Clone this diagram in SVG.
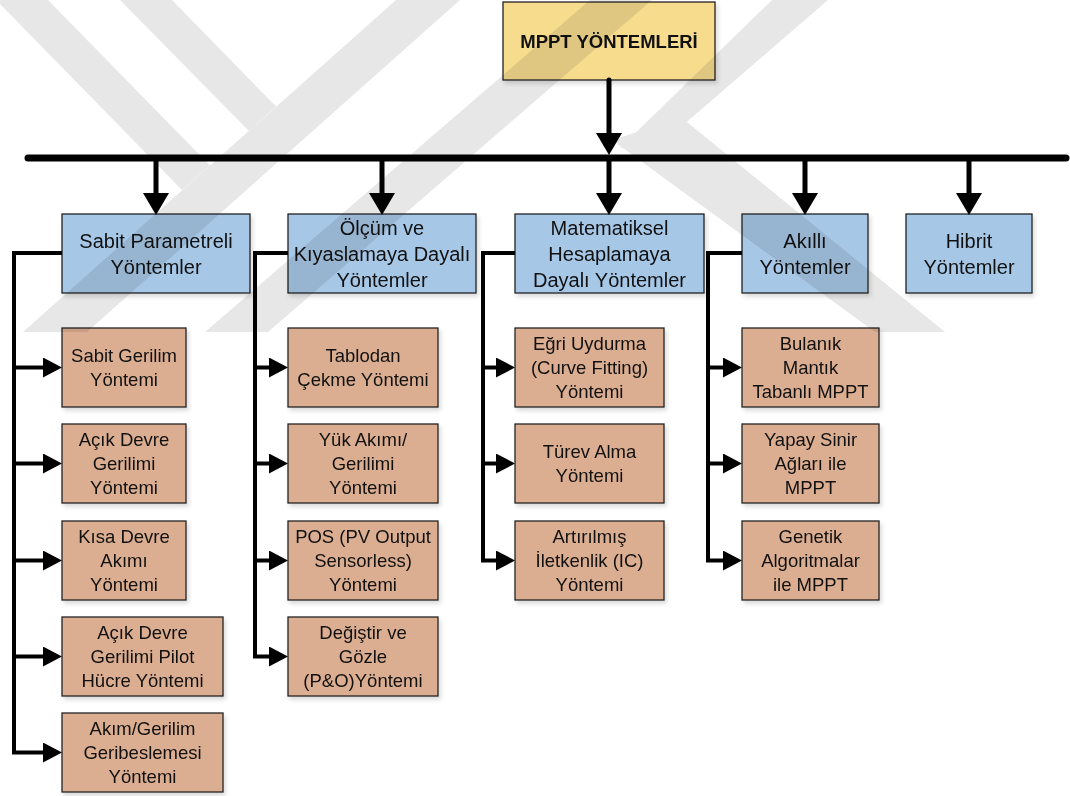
<svg xmlns="http://www.w3.org/2000/svg" width="1070" height="796" viewBox="0 0 1070 796">
  <defs>
    <style>
      .box { stroke: #222; stroke-width: 1.3; filter: url(#shadow); }
      .gold { fill: #f7dc8e; }
      .blue { fill: #a7c7e7; }
      .tan { fill: #dcae91; }
      text { font-family: "Liberation Sans", Arial, sans-serif; fill: #111; text-anchor: middle; }
      .title { font-size: 18.5px; font-weight: bold; }
      .cat { font-size: 20px; }
      .item { font-size: 18.5px; }
      .bus { stroke: #000; stroke-width: 7; stroke-linecap: round; fill: none; }
      .drop { stroke: #000; stroke-width: 5; fill: none; marker-end: url(#ahBig); }
      .link { stroke: #000; stroke-width: 4; fill: none; stroke-linejoin: miter; }
      .branch { marker-end: url(#ahSmall); }
      .wm { fill: #e7e7e7; }
    </style>
    <filter id="shadow" x="-10%" y="-10%" width="130%" height="130%">
      <feDropShadow dx="2" dy="3" stdDeviation="2" flood-color="#000" flood-opacity="0.15"/>
    </filter>
    <marker id="ahBig" viewBox="0 -13 22 26" markerWidth="22" markerHeight="26" refX="0" refY="0" orient="auto" markerUnits="userSpaceOnUse">
      <path d="M0,-13 L22,0 L0,13 z" fill="#000"/>
    </marker>
    <marker id="ahSmall" viewBox="0 -10 19 20" markerWidth="19" markerHeight="20" refX="0" refY="0" orient="auto" markerUnits="userSpaceOnUse">
      <path d="M0,-10 L19,0 L0,10 z" fill="#000"/>
    </marker>
  </defs>

  <rect width="1070" height="796" fill="#fff"/>

  <!-- root -->
  <g id="root">
    <rect class="box gold" x="503" y="2" width="212" height="78"/>
    <text class="title" x="609" y="48">MPPT YÖNTEMLERİ</text>
  </g>

  <!-- category boxes -->
  <g id="cat-sabit">
    <rect class="box blue" x="62" y="214" width="188" height="79"/>
    <text class="cat" x="156" y="248">Sabit Parametreli</text>
    <text class="cat" x="156" y="274">Yöntemler</text>
  </g>
  <g id="cat-olcum">
    <rect class="box blue" x="288" y="214" width="188" height="79"/>
    <text class="cat" x="382" y="235">Ölçüm ve</text>
    <text class="cat" x="382" y="261">Kıyaslamaya Dayalı</text>
    <text class="cat" x="382" y="287">Yöntemler</text>
  </g>
  <g id="cat-matematiksel">
    <rect class="box blue" x="515" y="214" width="189" height="79"/>
    <text class="cat" x="609.5" y="235">Matematiksel</text>
    <text class="cat" x="609.5" y="261">Hesaplamaya</text>
    <text class="cat" x="609.5" y="287">Dayalı Yöntemler</text>
  </g>
  <g id="cat-akilli">
    <rect class="box blue" x="742" y="214" width="126" height="79"/>
    <text class="cat" x="805" y="248">Akıllı</text>
    <text class="cat" x="805" y="274">Yöntemler</text>
  </g>
  <g id="cat-hibrit">
    <rect class="box blue" x="906" y="214" width="126" height="79"/>
    <text class="cat" x="969" y="248">Hibrit</text>
    <text class="cat" x="969" y="274">Yöntemler</text>
  </g>

  <!-- column 1: fixed-parameter methods -->
  <g id="sabit-gerilim">
    <rect class="box tan" x="62" y="328" width="124" height="79"/>
    <text class="item" x="124" y="362">Sabit Gerilim</text>
    <text class="item" x="124" y="386">Yöntemi</text>
  </g>
  <g id="acik-devre-gerilimi">
    <rect class="box tan" x="62" y="424" width="124" height="79"/>
    <text class="item" x="124" y="446">Açık Devre</text>
    <text class="item" x="124" y="470">Gerilimi</text>
    <text class="item" x="124" y="494">Yöntemi</text>
  </g>
  <g id="kisa-devre-akimi">
    <rect class="box tan" x="62" y="521" width="124" height="79"/>
    <text class="item" x="124" y="543">Kısa Devre</text>
    <text class="item" x="124" y="567">Akımı</text>
    <text class="item" x="124" y="591">Yöntemi</text>
  </g>
  <g id="pilot-hucre">
    <rect class="box tan" x="62" y="617" width="161" height="79"/>
    <text class="item" x="142.5" y="639">Açık Devre</text>
    <text class="item" x="142.5" y="663">Gerilimi Pilot</text>
    <text class="item" x="142.5" y="687">Hücre Yöntemi</text>
  </g>
  <g id="akim-gerilim-geribesleme">
    <rect class="box tan" x="62" y="713" width="161" height="79"/>
    <text class="item" x="142.5" y="735">Akım/Gerilim</text>
    <text class="item" x="142.5" y="759">Geribeslemesi</text>
    <text class="item" x="142.5" y="783">Yöntemi</text>
  </g>

  <!-- column 2: measurement / comparison methods -->
  <g id="tablodan-cekme">
    <rect class="box tan" x="288" y="328" width="150" height="79"/>
    <text class="item" x="363" y="362">Tablodan</text>
    <text class="item" x="363" y="386">Çekme Yöntemi</text>
  </g>
  <g id="yuk-akimi">
    <rect class="box tan" x="288" y="424" width="150" height="79"/>
    <text class="item" x="363" y="446">Yük Akımı/</text>
    <text class="item" x="363" y="470">Gerilimi</text>
    <text class="item" x="363" y="494">Yöntemi</text>
  </g>
  <g id="pos">
    <rect class="box tan" x="288" y="521" width="150" height="79"/>
    <text class="item" x="363" y="543">POS (PV Output</text>
    <text class="item" x="363" y="567">Sensorless)</text>
    <text class="item" x="363" y="591">Yöntemi</text>
  </g>
  <g id="degistir-gozle">
    <rect class="box tan" x="288" y="617" width="150" height="79"/>
    <text class="item" x="363" y="639">Değiştir ve</text>
    <text class="item" x="363" y="663">Gözle</text>
    <text class="item" x="363" y="687">(P&amp;O)Yöntemi</text>
  </g>

  <!-- column 3: mathematical methods -->
  <g id="egri-uydurma">
    <rect class="box tan" x="515" y="328" width="149" height="79"/>
    <text class="item" x="589.5" y="350">Eğri Uydurma</text>
    <text class="item" x="589.5" y="374">(Curve Fitting)</text>
    <text class="item" x="589.5" y="398">Yöntemi</text>
  </g>
  <g id="turev-alma">
    <rect class="box tan" x="515" y="424" width="149" height="79"/>
    <text class="item" x="589.5" y="458">Türev Alma</text>
    <text class="item" x="589.5" y="482">Yöntemi</text>
  </g>
  <g id="artirilmis-iletkenlik">
    <rect class="box tan" x="515" y="521" width="149" height="79"/>
    <text class="item" x="589.5" y="543">Artırılmış</text>
    <text class="item" x="589.5" y="567">İletkenlik (IC)</text>
    <text class="item" x="589.5" y="591">Yöntemi</text>
  </g>

  <!-- column 4: intelligent methods -->
  <g id="bulanik-mantik">
    <rect class="box tan" x="742" y="328" width="137" height="79"/>
    <text class="item" x="810.5" y="350">Bulanık</text>
    <text class="item" x="810.5" y="374">Mantık</text>
    <text class="item" x="810.5" y="398">Tabanlı MPPT</text>
  </g>
  <g id="yapay-sinir-aglari">
    <rect class="box tan" x="742" y="424" width="137" height="79"/>
    <text class="item" x="810.5" y="446">Yapay Sinir</text>
    <text class="item" x="810.5" y="470">Ağları ile</text>
    <text class="item" x="810.5" y="494">MPPT</text>
  </g>
  <g id="genetik-algoritmalar">
    <rect class="box tan" x="742" y="521" width="137" height="79"/>
    <text class="item" x="810.5" y="543">Genetik</text>
    <text class="item" x="810.5" y="567">Algoritmalar</text>
    <text class="item" x="810.5" y="591">ile MPPT</text>
  </g>

  <!-- connectors -->
  <g id="connectors">
    <path class="drop" d="M609,80 V133" stroke-linecap="round"/>
    <path class="bus" d="M28,158 H1066"/>
    <path class="drop" d="M156,158 V193"/>
    <path class="drop" d="M382,158 V193"/>
    <path class="drop" d="M609,158 V193"/>
    <path class="drop" d="M805,158 V193"/>
    <path class="drop" d="M969,158 V193"/>

    <path class="link branch" d="M62,253 H14 V752.5 H43"/>
    <path class="link branch" d="M14,367.5 H43"/>
    <path class="link branch" d="M14,463.5 H43"/>
    <path class="link branch" d="M14,560.5 H43"/>
    <path class="link branch" d="M14,656.5 H43"/>

    <path class="link branch" d="M288,253 H255 V656.5 H269"/>
    <path class="link branch" d="M255,367.5 H269"/>
    <path class="link branch" d="M255,463.5 H269"/>
    <path class="link branch" d="M255,560.5 H269"/>

    <path class="link branch" d="M515,253 H483 V560.5 H496"/>
    <path class="link branch" d="M483,367.5 H496"/>
    <path class="link branch" d="M483,463.5 H496"/>

    <path class="link branch" d="M742,253 H708 V560.5 H723"/>
    <path class="link branch" d="M708,367.5 H723"/>
    <path class="link branch" d="M708,463.5 H723"/>
  </g>

  <!-- faint background emblem, multiplied over everything -->
  <g id="emblem" style="mix-blend-mode:multiply">
    <polygon class="wm" points="-4,0 48,0 210,165.5 182,190"/>
    <polygon class="wm" points="120,0 172,0 276,106.5 249,131"/>
    <polygon class="wm" points="396,0 460,0 87,332 23,332"/>
    <polygon class="wm" points="590,0 652,0 268,332 205,332"/>
    <polygon class="wm" points="772,0 828,0 682,126 620,148"/>
    <polygon class="wm" points="612,140 682,118 945,332 875,332"/>
  </g>
</svg>
